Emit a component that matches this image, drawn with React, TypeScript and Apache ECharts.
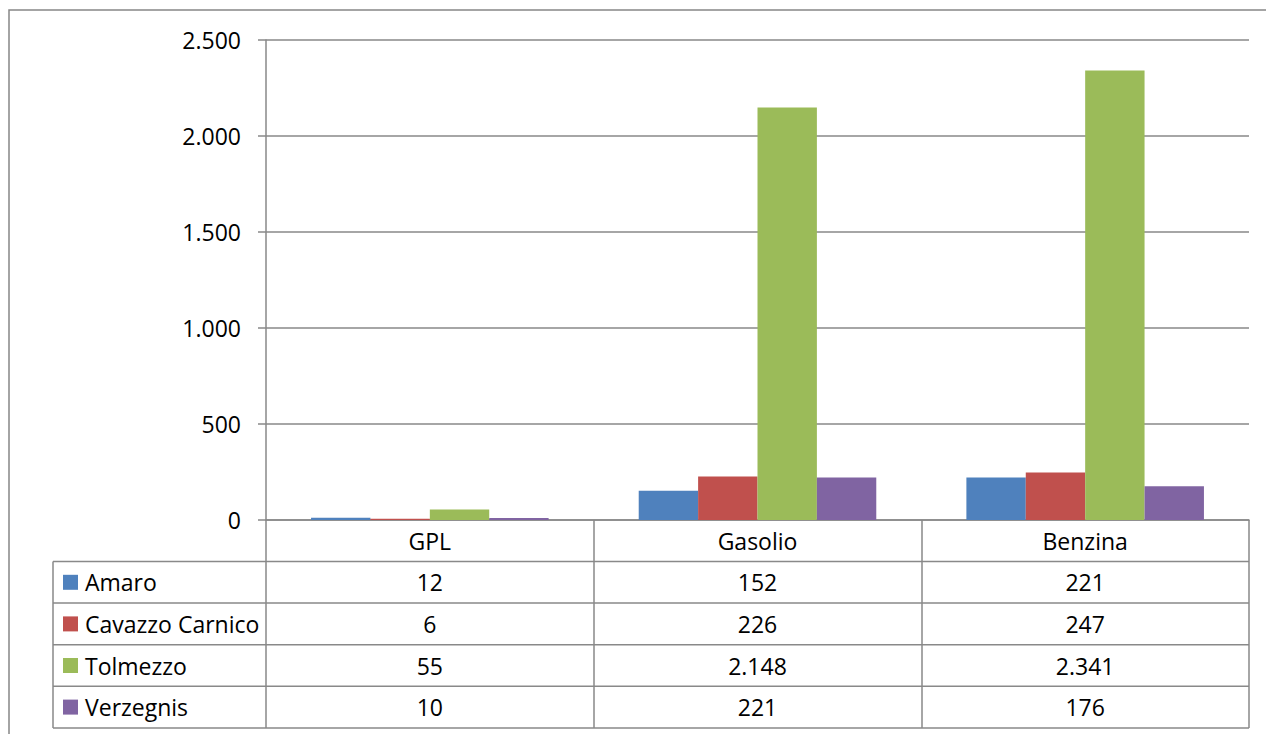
import React, { useEffect, useRef } from "react";
import * as echarts from "echarts";

const categories = ["GPL", "Gasolio", "Benzina"];
const seriesNames = ["Amaro", "Cavazzo Carnico", "Tolmezzo", "Verzegnis"];
const amaro = [12, 152, 221];
const cavazzo = [6, 226, 247];
const tolmezzo = [55, 2148, 2341];
const verzegnis = [10, 221, 176];
const seriesColors = ["#4F81BD", "#C0504D", "#9BBB59", "#8064A2"];

const FONT = "'Open Sans', 'Liberation Sans', sans-serif";
const FS = 23;
const LINE = "#898989";

const fmt = (v: number) => String(v).replace(/\B(?=(\d{3})+(?!\d))/g, ".");

export default function App() {
  const ref = useRef<HTMLDivElement>(null);
  useEffect(() => {
    const chart = echarts.init(ref.current!, null, { renderer: "svg" });
    const values = [amaro, cavazzo, tolmezzo, verzegnis];
    chart.setOption({
      animation: false,
      backgroundColor: "#ffffff",
      textStyle: { fontFamily: FONT },
      grid: { left: 266, right: 17, top: 40, bottom: 214, containLabel: false },
      xAxis: {
        type: "category",
        data: categories,
        axisLine: { show: true, lineStyle: { color: LINE, width: 1.5 } },
        axisTick: { show: true, inside: false, length: 208, lineStyle: { color: LINE, width: 1.5 } },
        axisLabel: { color: "#000", fontSize: FS, fontFamily: FONT, margin: 10, lineHeight: 22 },
      },
      yAxis: {
        type: "value",
        min: 0,
        max: 2500,
        interval: 500,
        axisLine: { show: true, lineStyle: { color: LINE, width: 1.5 } },
        axisTick: { show: true, length: 8, lineStyle: { color: LINE, width: 1.5 } },
        axisLabel: { color: "#000", fontSize: FS, fontFamily: FONT, margin: 25, formatter: (v: number) => fmt(v) },
        splitLine: { show: true, lineStyle: { color: LINE, width: 1.5 } },
      },
      series: seriesNames.map((name, i) => ({
        name,
        type: "bar",
        data: values[i],
        barGap: "0%",
        barCategoryGap: "27.5%",
        itemStyle: { color: seriesColors[i] },
      })),
    });

    const xs = categories.map((c) => chart.convertToPixel({ xAxisIndex: 0 }, c) as number);
    const tableLeft = 53;
    const tableRight = 1249;
    const tableTop = 561.5;
    const rowH = 41.6;
    const graphic: any[] = [];
    graphic.push({
      type: "rect",
      shape: { x: 9, y: 10, width: 1300, height: 800 },
      style: { fill: "none", stroke: "#868686", lineWidth: 1.5 },
      silent: true,
    });
    for (let r = 0; r <= seriesNames.length; r++) {
      const y = tableTop + r * rowH;
      graphic.push({
        type: "line",
        shape: { x1: tableLeft, y1: y, x2: tableRight, y2: y },
        style: { stroke: LINE, lineWidth: 1.5 },
      });
    }
    graphic.push({
      type: "line",
      shape: { x1: tableLeft, y1: tableTop, x2: tableLeft, y2: tableTop + 4 * rowH },
      style: { stroke: LINE, lineWidth: 1.5 },
    });
    seriesNames.forEach((name, r) => {
      const cy = tableTop + r * rowH + rowH / 2;
      graphic.push({
        type: "rect",
        shape: { x: 63, y: cy - 7.5, width: 15, height: 15 },
        style: { fill: seriesColors[r] },
      });
      graphic.push({
        type: "text",
        x: 85,
        y: cy,
        style: { text: name, fill: "#000", font: `${FS}px ${FONT}`, verticalAlign: "middle", align: "left" },
      });
      values[r].forEach((v, c) => {
        graphic.push({
          type: "text",
          x: xs[c],
          y: cy,
          style: { text: fmt(v), fill: "#000", font: `${FS}px ${FONT}`, verticalAlign: "middle", align: "center" },
        });
      });
    });
    chart.setOption({ graphic });
    return () => chart.dispose();
  }, []);
  return (
    <div
      ref={ref}
      style={{ position: "fixed", left: 0, top: 0, width: 1266, height: 734, background: "#fff" }}
    />
  );
}
